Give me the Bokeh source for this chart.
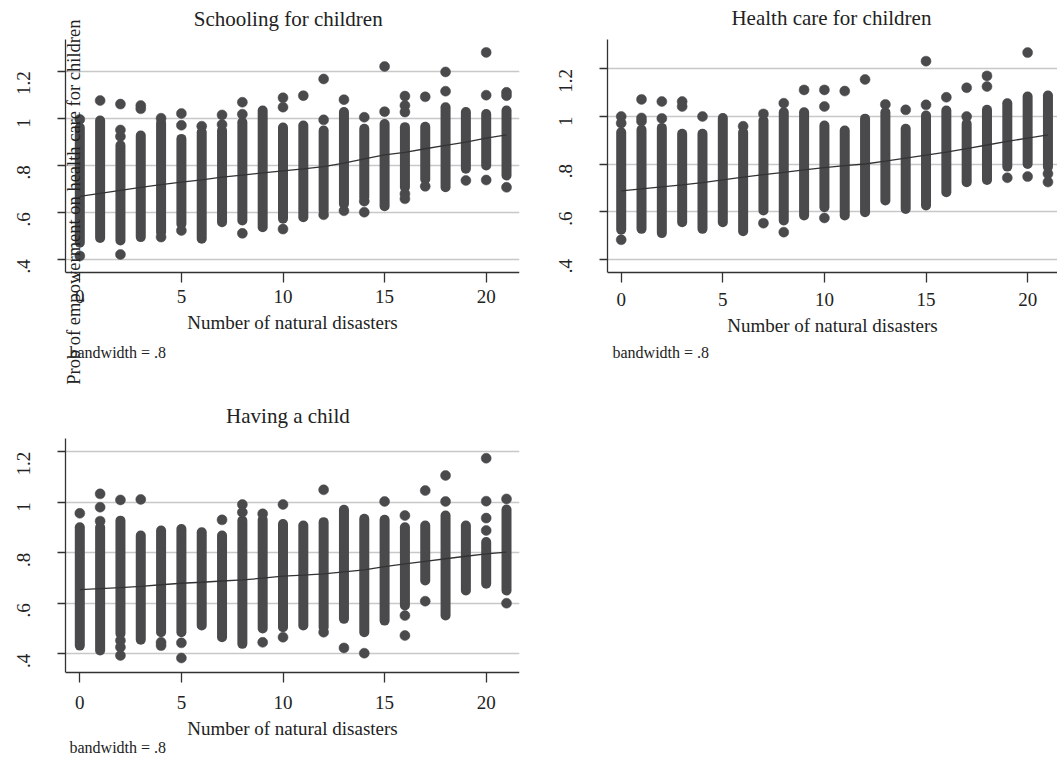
import math
from bokeh.plotting import figure
from bokeh.layouts import column, row
from bokeh.models import FixedTicker, Label
from bokeh.embed import file_html
from bokeh.resources import INLINE

# ---------------- data ----------------
x_cols = list(range(22))

# Panel 1: Schooling for children -- dense column bands (low/high) and isolated points
school_lo = [0.47, 0.49, 0.48, 0.494, 0.515, 0.55, 0.487, 0.557, 0.565, 0.536, 0.572,
             0.579, 0.607, 0.635, 0.664, 0.625, 0.706, 0.74, 0.706, 0.785, 0.799, 0.756]
school_hi = [0.96, 0.99, 0.885, 0.926, 0.98, 0.912, 0.94, 0.948, 0.983, 1.033, 0.96,
             0.969, 0.948, 1.026, 0.955, 0.975, 0.962, 0.964, 1.047, 1.026, 1.018, 1.033]
school_pt_x = [0, 0, 1, 2, 2, 2, 2, 3, 3, 4, 4, 5, 5, 5, 6, 7, 7, 8, 8, 8,
               10, 10, 10, 11, 12, 12, 12, 13, 13, 14, 14, 14, 15, 15,
               16, 16, 16, 16, 16, 17, 17, 18, 18, 19, 20, 20, 20, 21, 21, 21]
school_pt_y = [0.995, 0.414, 1.075, 1.06, 0.95, 0.922, 0.42, 1.054, 1.04, 1.0, 0.494,
               1.02, 0.97, 0.522, 0.966, 1.014, 0.973, 1.068, 1.017, 0.51,
               1.087, 1.047, 0.528, 1.096, 1.167, 0.993, 0.589, 1.079, 0.606,
               1.004, 0.647, 0.60, 1.22, 1.028, 1.094, 1.054, 1.026, 0.678, 0.657,
               1.091, 0.71, 1.197, 1.115, 0.735, 1.28, 1.098, 0.737, 1.11, 1.096, 0.706]
school_fit = [0.667, 0.68, 0.693, 0.706, 0.717, 0.728, 0.738, 0.749, 0.758, 0.767, 0.776,
              0.784, 0.794, 0.809, 0.827, 0.844, 0.855, 0.870, 0.884, 0.898, 0.915, 0.929]

# Panel 2: Health care for children
health_lo = [0.523, 0.527, 0.509, 0.555, 0.527, 0.555, 0.517, 0.604, 0.562, 0.583, 0.618,
             0.583, 0.597, 0.646, 0.611, 0.625, 0.681, 0.723, 0.733, 0.789, 0.80, 0.787]
health_hi = [0.934, 0.944, 0.952, 0.927, 0.927, 0.994, 0.934, 0.983, 1.018, 1.018, 0.962,
             0.941, 0.991, 1.018, 0.948, 1.004, 1.025, 0.969, 1.028, 1.056, 1.084, 1.088]
health_pt_x = [0, 0, 0, 1, 1, 1, 2, 2, 3, 3, 4, 6, 7, 7, 8, 8, 9, 10, 10, 10,
               11, 12, 13, 14, 15, 15, 16, 17, 17, 18, 18, 19, 20, 20, 21, 21]
health_pt_y = [1.0, 0.972, 0.481, 1.072, 0.994, 0.98, 1.063, 0.992, 1.063, 1.042, 1.0,
               0.959, 1.011, 0.551, 1.056, 0.513, 1.112, 1.112, 1.042, 0.573,
               1.107, 1.156, 1.051, 1.028, 1.233, 1.049, 1.081, 1.121, 1.0, 1.171, 1.126,
               0.742, 1.269, 0.747, 0.759, 0.724]
health_fit = [0.687, 0.695, 0.704, 0.712, 0.722, 0.733, 0.745, 0.755, 0.765, 0.775, 0.785,
              0.793, 0.80, 0.812, 0.825, 0.837, 0.85, 0.865, 0.88, 0.895, 0.909, 0.923]

# Panel 3: Having a child
child_lo = [0.432, 0.413, 0.479, 0.455, 0.485, 0.485, 0.512, 0.465, 0.439, 0.50, 0.505,
            0.512, 0.505, 0.538, 0.485, 0.531, 0.591, 0.69, 0.551, 0.65, 0.677, 0.65]
child_hi = [0.901, 0.901, 0.927, 0.868, 0.888, 0.894, 0.881, 0.868, 0.927, 0.93, 0.914,
            0.908, 0.921, 0.97, 0.934, 0.93, 0.901, 0.908, 0.947, 0.908, 0.842, 0.971]
child_pt_x = [0, 1, 1, 1, 2, 2, 2, 2, 3, 4, 4, 5, 5, 7, 8, 8, 9, 9, 10, 10,
              12, 12, 13, 14, 15, 16, 16, 16, 17, 17, 18, 18, 20, 20, 20, 20, 21, 21]
child_pt_y = [0.956, 1.033, 0.98, 0.925, 1.009, 0.452, 0.426, 0.393, 1.011, 0.445, 0.432,
              0.443, 0.383, 0.93, 0.991, 0.96, 0.954, 0.445, 0.991, 0.465,
              1.049, 0.485, 0.423, 0.402, 1.003, 0.947, 0.551, 0.472, 1.046, 0.608,
              1.106, 1.003, 1.174, 1.004, 0.937, 0.888, 1.013, 0.60]
child_fit = [0.654, 0.658, 0.662, 0.667, 0.673, 0.679, 0.683, 0.688, 0.692, 0.699, 0.707,
             0.711, 0.716, 0.724, 0.732, 0.745, 0.756, 0.766, 0.776, 0.786, 0.795, 0.802]

titles = ["Schooling for children", "Health care for children", "Having a child"]
x_title = "Number of natural disasters"
y_title = "Prob of empowerment on health care for children"
note = "bandwidth = .8"
x_ticks = [0, 5, 10, 15, 20]
y_ticks = [0.4, 0.6, 0.8, 1.0, 1.2]
y_tick_text = {0.4: ".4", 0.6: ".6", 0.8: ".8", 1.0: "1", 1.2: "1.2"}

# ---------------- styling ----------------
SERIF = "Liberation Serif"
DOT = "#4a4a4c"
TXT = "#222222"


def txt(x, y, s, size, align="left", angle=0.0):
    return Label(x=x, y=y, text=s, text_font=SERIF, text_font_size=size,
                 text_color=TXT, text_align=align, text_baseline="middle",
                 angle=angle)


def panel(cfg, lo, hi, px, py, fit):
    p = figure(width=cfg["w"], height=cfg["h"], x_range=cfg["xr"], y_range=cfg["yr"],
               output_backend="svg", toolbar_location=None,
               min_border_left=cfg["bl"], min_border_right=cfg["br"],
               min_border_top=0, min_border_bottom=0)
    p.outline_line_color = None
    p.background_fill_color = "white"
    p.border_fill_color = "white"

    p.xgrid.grid_line_color = None
    p.ygrid.ticker = FixedTicker(ticks=y_ticks)
    p.ygrid.grid_line_color = "#c8c8c8"
    p.ygrid.grid_line_width = 1.6

    xa = p.xaxis[0]
    xa.ticker = FixedTicker(ticks=x_ticks)
    xa.axis_label = x_title
    xa.fixed_location = cfg["xloc"]
    ya = p.yaxis[0]
    ya.ticker = FixedTicker(ticks=y_ticks)
    ya.major_label_overrides = y_tick_text
    ya.major_label_orientation = math.pi / 2
    ya.bounds = cfg["ybounds"]
    for ax in (xa, ya):
        ax.axis_line_color = "#333333"
        ax.axis_line_width = 1.3
        ax.major_tick_line_color = "#333333"
        ax.major_tick_line_width = 1.3
        ax.major_tick_in = 0
        ax.minor_tick_line_color = None
        ax.major_label_text_font = SERIF
        ax.major_label_text_font_size = "19px"
        ax.major_label_text_color = TXT
        ax.axis_label_text_font = SERIF
        ax.axis_label_text_font_size = "19px"
        ax.axis_label_text_font_style = "normal"
        ax.axis_label_text_color = TXT
    xa.major_tick_out = 10
    ya.major_tick_out = 8
    ya.major_label_standoff = cfg["ys"]
    xa.major_label_standoff = cfg["xs"]
    xa.axis_label_standoff = cfg["xls"]

    p.segment(x0=x_cols, y0=lo, x1=x_cols, y1=hi, line_width=10, line_cap="round",
              line_color=DOT)
    p.scatter(px, py, size=10, fill_color=DOT, line_color=DOT, line_width=0.5)
    p.line(x_cols, fit, line_color="#333333", line_width=1.3)

    tx, ty = cfg["title_xy"]
    p.add_layout(txt(tx, ty, cfg["title"], "21px", align="center"))
    nx, ny = cfg["note_xy"]
    p.add_layout(txt(nx, ny, note, "16px"))
    return p


cfg1 = dict(title=titles[0], w=530, h=396, bl=65, br=11, xr=(-0.704, 21.639),
            yr=(-0.1843, 1.5009), xloc=0.342, ybounds=(0.342, 1.334),
            ys=34, xs=7, xls=6, title_xy=(10.256, 1.4204), note_xy=(-0.507, 0.0034))
cfg2 = dict(title=titles[1], w=527, h=396, bl=77, br=0, xr=(-0.674, 21.47),
            yr=(-0.1789, 1.4884), xloc=0.342, ybounds=(0.342, 1.323),
            ys=34, xs=10, xls=6, title_xy=(10.344, 1.4131), note_xy=(-0.428, 0.0059))
cfg3 = dict(title=titles[2], w=530, h=363, bl=65, br=11, xr=(-0.704, 21.639),
            yr=(-0.019, 1.4186), xloc=0.327, ybounds=(0.327, 1.251),
            ys=34, xs=14, xls=5, title_xy=(10.241, 1.3398), note_xy=(-0.507, 0.0289))

p1 = panel(cfg1, school_lo, school_hi, school_pt_x, school_pt_y, school_fit)
p1.add_layout(txt(-0.285, 0.6426, y_title, "18.5px", align="center", angle=math.pi / 2))
p2 = panel(cfg2, health_lo, health_hi, health_pt_x, health_pt_y, health_fit)
p3 = panel(cfg3, child_lo, child_hi, child_pt_x, child_pt_y, child_fit)

layout = column(row(p1, p2, spacing=0), p3, spacing=0)
open("out.html", "w").write(file_html(layout, INLINE))
